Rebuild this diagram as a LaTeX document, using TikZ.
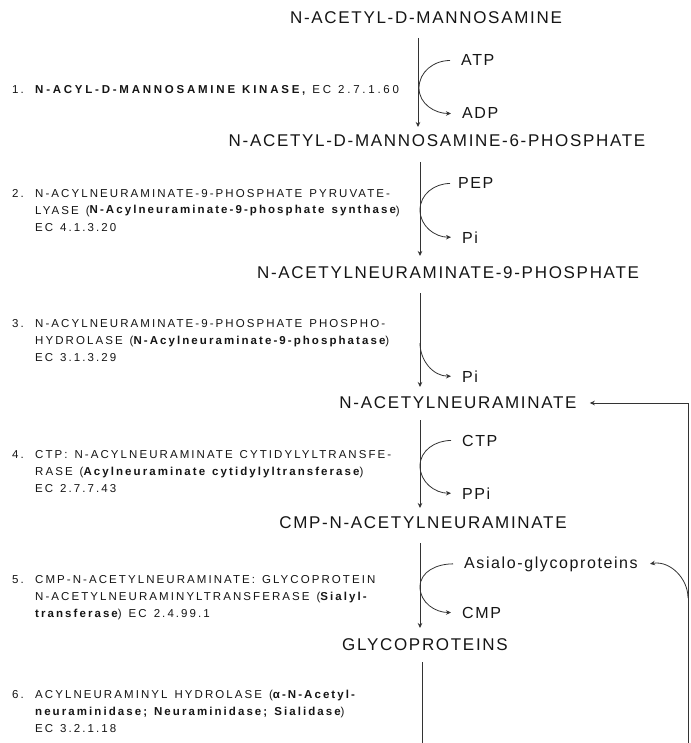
\documentclass[tikz,border=0pt]{standalone}
\usepackage{fontspec}
\setmainfont{Liberation Sans}
\newfontfamily\cmpfont[LetterSpace=10]{Liberation Sans}
\newfontfamily\enzfont[LetterSpace=18]{Liberation Sans}
\newfontfamily\enzwide[LetterSpace=24]{Liberation Sans}
\newcommand\enzspacing{\spaceskip=7pt plus 1pt\relax}
\usetikzlibrary{arrows.meta}
\definecolor{ink}{HTML}{151515}
\definecolor{wire}{HTML}{333333}
\begin{document}
\begin{tikzpicture}[x=1pt,y=-1pt,
  cmp/.style={font=\cmpfont\fontsize{17}{17}\selectfont, inner sep=0pt, text=ink},
  side/.style={font=\cmpfont\fontsize{16}{16}\selectfont, inner sep=0pt, text=ink, anchor=base west},
  enz/.style={font=\enzfont\fontsize{11.5}{17}\selectfont\enzspacing, inner sep=0pt, text=ink, anchor=base west, align=left},
  wireline/.style={draw=wire, line width=0.8pt},
  arr/.style={wireline, -{Stealth[length=5pt,width=4.5pt]}}
]
\useasboundingbox (0,0) rectangle (690,743);

% compounds
\node[cmp] (m)    at (426,18)  {N-ACETYL-D-MANNOSAMINE};
\node[cmp] (m6p)  at (437,141) {N-ACETYL-D-MANNOSAMINE-6-PHOSPHATE};
\node[cmp] (n9p)  at (448,273) {N-ACETYLNEURAMINATE-9-PHOSPHATE};
\node[cmp] (neu)  at (458,403) {N-ACETYLNEURAMINATE};
\node[cmp] (cmpn) at (423,523) {CMP-N-ACETYLNEURAMINATE};
\node[cmp] (gly)  at (425,645) {GLYCOPROTEINS};

% side substrates / products
\node[side] (atp)  at (461,66)  {ATP};
\node[side] (adp)  at (462,119) {ADP};
\node[side] (pep)  at (458,189) {PEP};
\node[side] (pi2)  at (462,243) {Pi};
\node[side] (pi3)  at (462,382) {Pi};
\node[side] (ctp)  at (462,446) {CTP};
\node[side] (ppi)  at (462,499) {PPi};
\node[side] (asg)  at (464,568) {Asialo-glycoproteins};
\node[side] (cmpx) at (462,618) {CMP};

% enzymes (multi-line nodes are placed by the baseline of their last line)
\node[enz] (n1) at (12,94) {1.};
\node[enz, font=\enzwide\fontsize{11.5}{17}\selectfont\enzspacing] (e1) at (35,94) {{\bfseries N-ACYL-D-MANNOSAMINE KINASE,} EC 2.7.1.60};
\node[enz] (n2) at (12,197) {2.};
\node[enz] (e2) at (35,231) {N-ACYLNEURAMINATE-9-PHOSPHATE PYRUVATE-\\LYASE ({\bfseries N-Acylneuraminate-9-phosphate synthase})\\EC 4.1.3.20};
\node[enz] (n3) at (12,327) {3.};
\node[enz] (e3) at (35,361) {N-ACYLNEURAMINATE-9-PHOSPHATE PHOSPHO-\\HYDROLASE ({\bfseries N-Acylneuraminate-9-phosphatase})\\EC 3.1.3.29};
\node[enz] (n4) at (12,458) {4.};
\node[enz] (e4) at (35,492) {CTP: N-ACYLNEURAMINATE CYTIDYLYLTRANSFE-\\RASE ({\bfseries Acylneuraminate cytidylyltransferase})\\EC 2.7.7.43};
\node[enz] (n5) at (12,583) {5.};
\node[enz] (e5) at (35,617) {CMP-N-ACETYLNEURAMINATE: GLYCOPROTEIN\\N-ACETYLNEURAMINYLTRANSFERASE ({\bfseries Sialyl-}\\{\bfseries transferase}) EC 2.4.99.1};
\node[enz] (n6) at (12,698) {6.};
\node[enz] (e6) at (35,732) {ACYLNEURAMINYL HYDROLASE ({\bfseries α-N-Acetyl-}\\{\bfseries neuraminidase; Neuraminidase; Sialidase})\\EC 3.2.1.18};

% main pathway coordinates
\coordinate (s1) at (418,38);  \coordinate (t1) at (418,127);
\coordinate (s2) at (420,162); \coordinate (t2) at (420,256);
\coordinate (s3) at (420,293); \coordinate (t3) at (420,387);
\coordinate (s4) at (420,420); \coordinate (t4) at (420,508);
\coordinate (s5) at (420,543); \coordinate (t5) at (420,628);
\coordinate (s6) at (422,662); \coordinate (t6) at (422,743);
\coordinate (k1) at (419,88);
\coordinate (k2) at (420,210);
\coordinate (k3) at (420,343);
\coordinate (k4) at (420,466);
\coordinate (k5) at (420,587);
\coordinate (fb) at (688,743);
\coordinate (br) at (688,598);

\draw[arr] (s1) -- (t1);
\draw[arr] (s2) -- (t2);
\draw[arr] (s3) -- (t3);
\draw[arr] (s4) -- (t4);
\draw[arr] (s5) -- (t5);
\draw[wireline] (s6) -- (t6);

% co-substrate curves
\draw[arr] ([xshift=-11pt]atp.west) to[out=180,in=90] (k1) to[out=-90,in=180] ([xshift=-11pt]adp.west);
\draw[arr] ([xshift=-8pt]pep.west) to[out=180,in=90] (k2) to[out=-90,in=180] ([xshift=-11pt]pi2.west);
\draw[arr] (k3) to[out=-90,in=180] ([xshift=-11pt]pi3.west);
\draw[arr] ([xshift=-11pt]ctp.west) to[out=180,in=90] (k4) to[out=-90,in=180] ([xshift=-11pt]ppi.west);
\draw[arr] ([xshift=-11pt]asg.west) to[out=180,in=90] (k5) to[out=-90,in=180] ([xshift=-11pt]cmpx.west);

% recycling
\draw[arr] (fb) |- ([xshift=13pt]neu.east);
\draw[arr] (br) to[out=90,in=10] ([xshift=12pt]asg.east);
\end{tikzpicture}
\end{document}
